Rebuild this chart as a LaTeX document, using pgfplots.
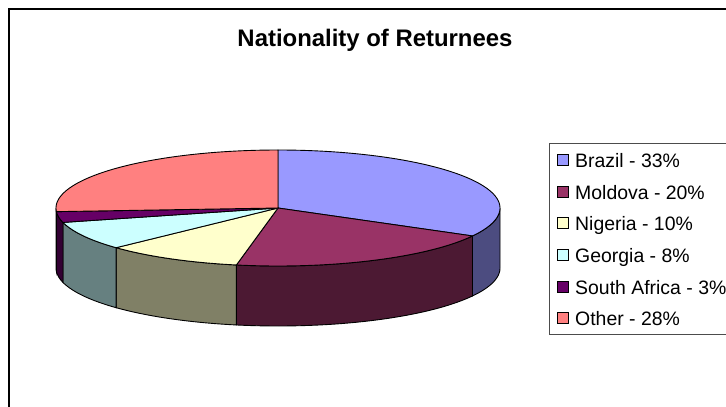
\documentclass[border=0pt]{standalone}
\usepackage{pgfplots}
\pgfplotsset{compat=1.18}
\usepackage{pgfplotstable}
\usepackage{fontspec}
\setmainfont{Liberation Sans}

\definecolor{brT}{HTML}{9999FF}\definecolor{brS}{HTML}{4C4C80}
\definecolor{moT}{HTML}{993366}\definecolor{moS}{HTML}{4C1933}
\definecolor{niT}{HTML}{FFFFCC}\definecolor{niS}{HTML}{808066}
\definecolor{geT}{HTML}{CCFFFF}\definecolor{geS}{HTML}{668080}
\definecolor{saT}{HTML}{660066}\definecolor{saS}{HTML}{330033}
\definecolor{otT}{HTML}{FF8080}\definecolor{otS}{HTML}{804040}

\pgfplotstableread{
name value
Brazil 33
Moldova 20
Nigeria 10
Georgia 8
SouthAfrica 3
Other 28
}\piedata

\def\cx{278}\def\cy{198}\def\ra{222}\def\rb{58}\def\dep{60}

\begin{document}
\begin{tikzpicture}[x=1bp,y=1bp]
\pgfplotstablegetelem{0}{value}\of\piedata \pgfmathsetmacro\bA{90-3.6*\pgfplotsretval}
\pgfplotstablegetelem{1}{value}\of\piedata \pgfmathsetmacro\bB{\bA-3.6*\pgfplotsretval}
\pgfplotstablegetelem{2}{value}\of\piedata \pgfmathsetmacro\bC{\bB-3.6*\pgfplotsretval}
\pgfplotstablegetelem{3}{value}\of\piedata \pgfmathsetmacro\bD{\bC-3.6*\pgfplotsretval}
\pgfplotstablegetelem{4}{value}\of\piedata \pgfmathsetmacro\bE{\bD-3.6*\pgfplotsretval}
\begin{axis}[at={(0,0)},anchor=south west,scale only axis,width=726bp,height=406bp,
  xmin=0,xmax=726,ymin=0,ymax=406,axis lines=none,clip=false]
% walls (front half)
\newcommand\wall[3]{%
  \filldraw[fill=#3,draw=black,line width=0.9bp] plot[domain=#1:#2,samples=40,variable=\t]
   (axis cs:{\cx+\ra*cos(\t)},{\cy+\rb*sin(\t)}) --
   plot[domain=#2:#1,samples=40,variable=\t]
   (axis cs:{\cx+\ra*cos(\t)},{\cy-\dep+\rb*sin(\t)}) -- cycle;}
\newcommand\slice[3]{%
  \filldraw[fill=#3,draw=black,line width=0.9bp] (axis cs:\cx,\cy) --
   plot[domain=#1:#2,samples=60,variable=\t]
   (axis cs:{\cx+\ra*cos(\t)},{\cy+\rb*sin(\t)}) -- cycle;}
\wall{\bA}{0}{brS}
\wall{\bB}{\bA}{moS}
\wall{\bC}{\bB}{niS}
\wall{\bD}{\bC}{geS}
\wall{\bE}{\bD}{saS}
\wall{-180}{\bE}{otS}
\slice{90}{\bA}{brT}
\slice{\bA}{\bB}{moT}
\slice{\bB}{\bC}{niT}
\slice{\bC}{\bD}{geT}
\slice{\bD}{\bE}{saT}
\slice{\bE}{-270}{otT}
\end{axis}
% frame
\draw[line width=1.5bp] (9,-5) -- (9,397) -- (740,397);
% title
\node[font=\bfseries\fontsize{24}{28}\selectfont] at (375,366) {Nationality of Returnees};
% legend
\draw[line width=0.8bp,draw=black!70] (549,263) rectangle (745,72);
\foreach \c/\col/\txt in {160/brT/Brazil - 33\%,192/moT/Moldova - 20\%,223/niT/Nigeria - 10\%,255/geT/Georgia - 8\%,287/saT/South Africa - 3\%,318/otT/Other - 28\%}{
  \filldraw[fill=\col,draw=black,line width=0.8bp] (557,{406-\c-5.5}) rectangle (568,{406-\c+5.5});
  \node[anchor=base west,inner sep=0pt,font=\fontsize{19.5}{22}\selectfont] at (575,{406-\c-7}) {\txt};
}
\pgfresetboundingbox
\path (0,0) rectangle (726,406);
\end{tikzpicture}
\end{document}
